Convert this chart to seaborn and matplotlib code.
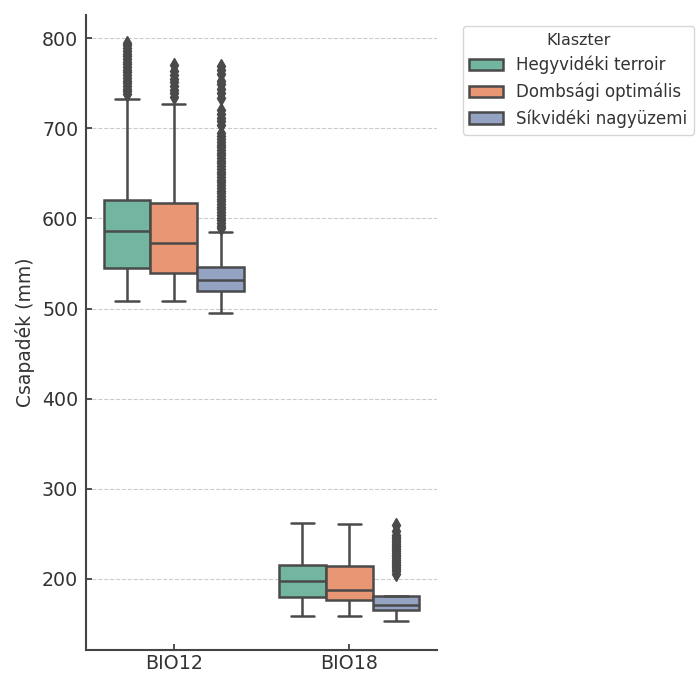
import numpy as np
import pandas as pd
import matplotlib
matplotlib.use("Agg")
import matplotlib.pyplot as plt
import seaborn as sns

# ---- data (box statistics, mm) ----
variables = ["BIO12", "BIO18"]
clusters = ["Hegyvidéki terroir", "Dombsági optimális", "Síkvidéki nagyüzemi"]

# per variable, per cluster: lower whisker, Q1, median, Q3, upper whisker
bio12_whislo = [508, 508, 495]
bio12_q1 = [545, 540, 520]
bio12_med = [586, 573, 532]
bio12_q3 = [621, 617, 546]
bio12_whishi = [733, 727, 585]

bio18_whislo = [159, 159, 153]
bio18_q1 = [180, 177, 165]
bio18_med = [198, 188, 171]
bio18_q3 = [216, 214, 181]
bio18_whishi = [262, 261, 206]

bio12_out_hegy = [738, 741, 744, 747, 750, 753, 756, 759, 762, 765, 768, 771,
                  774, 777, 780, 783, 786, 789, 792, 795]
bio12_out_domb = [735, 739, 743, 747, 751, 755, 759, 764, 770]
bio12_out_sik = [589, 592, 595, 598, 601, 604, 607, 610, 613, 616, 619, 622,
                 625, 628, 631, 634, 637, 640, 643, 646, 649, 652, 655, 658,
                 661, 664, 667, 670, 673, 676, 679, 682, 685, 688, 691, 695,
                 704, 708, 712, 716, 720, 734, 739, 744, 749, 753, 760, 765, 769]
bio18_out_hegy = []
bio18_out_domb = []
bio18_out_sik = [209, 211, 213, 215, 217, 219, 221, 223, 225, 227, 229, 231,
                 233, 235, 237, 239, 241, 243, 245, 247, 249, 253, 260]

# ---- build a long table that reproduces these statistics ----
def group_values(lo, q1, med, q3, hi, outliers, r=100):
    k = len(outliers)
    return ([lo] * (k + 1) + [q1] * r + [med] * r + [q3] * r + [hi]
            + list(outliers))

rows = []
stats = {
    "BIO12": (bio12_whislo, bio12_q1, bio12_med, bio12_q3, bio12_whishi,
              [bio12_out_hegy, bio12_out_domb, bio12_out_sik]),
    "BIO18": (bio18_whislo, bio18_q1, bio18_med, bio18_q3, bio18_whishi,
              [bio18_out_hegy, bio18_out_domb, bio18_out_sik]),
}
for var in variables:
    lo, q1, med, q3, hi, outs = stats[var]
    for i, cl in enumerate(clusters):
        for v in group_values(lo[i], q1[i], med[i], q3[i], hi[i], outs[i]):
            rows.append((var, cl, v))
df = pd.DataFrame(rows, columns=["Változó", "Klaszter", "Érték"])

# ---- plot ----
sns.set_style("ticks")
plt.rcParams["font.family"] = ["DejaVu Sans"]
plt.rcParams["text.color"] = "#333333"
plt.rcParams["axes.labelcolor"] = "#333333"
plt.rcParams["xtick.color"] = "#333333"
plt.rcParams["ytick.color"] = "#333333"

fig = plt.figure(figsize=(6.97, 6.73), dpi=100)
ax = fig.add_axes([0.1234, 0.034, 0.5036, 0.944])

line_c = "#4a4a4a"
sns.boxplot(data=df, x="Változó", y="Érték", hue="Klaszter",
            order=variables, hue_order=clusters, palette="Set2",
            saturation=0.75, width=0.8, linewidth=1.8, linecolor=line_c,
            flierprops=dict(marker="d", markerfacecolor=line_c,
                            markeredgecolor=line_c, markersize=7),
            ax=ax)

ax.set_ylim(121, 826)
ax.set_xlim(-0.5, 1.5)
ax.set_yticks([200, 300, 400, 500, 600, 700, 800])
ax.set_xlabel("")
ax.set_ylabel("Csapadék (mm)", fontsize=13.5, labelpad=5)
ax.tick_params(axis="y", labelsize=13.7, direction="in", length=4,
               width=1.2, pad=5.5)
ax.tick_params(axis="x", labelsize=13.7, direction="in", length=4,
               width=1.2, pad=3)
ax.yaxis.grid(True, linestyle="--", color="#cccccc", linewidth=0.8)
ax.set_axisbelow(True)
for s in ["top", "right"]:
    ax.spines[s].set_visible(False)
for s in ["left", "bottom"]:
    ax.spines[s].set_color("#444444")
    ax.spines[s].set_linewidth(1.5)

handles, labels = ax.get_legend_handles_labels()
ax.legend(handles, labels, title="Klaszter", loc="upper left",
          bbox_to_anchor=(0.664, 0.9614), bbox_transform=fig.transFigure,
          fontsize=12, title_fontsize=11.5, frameon=True,
          edgecolor="#cccccc", borderaxespad=0)

fig.savefig("out.png", dpi=100)
